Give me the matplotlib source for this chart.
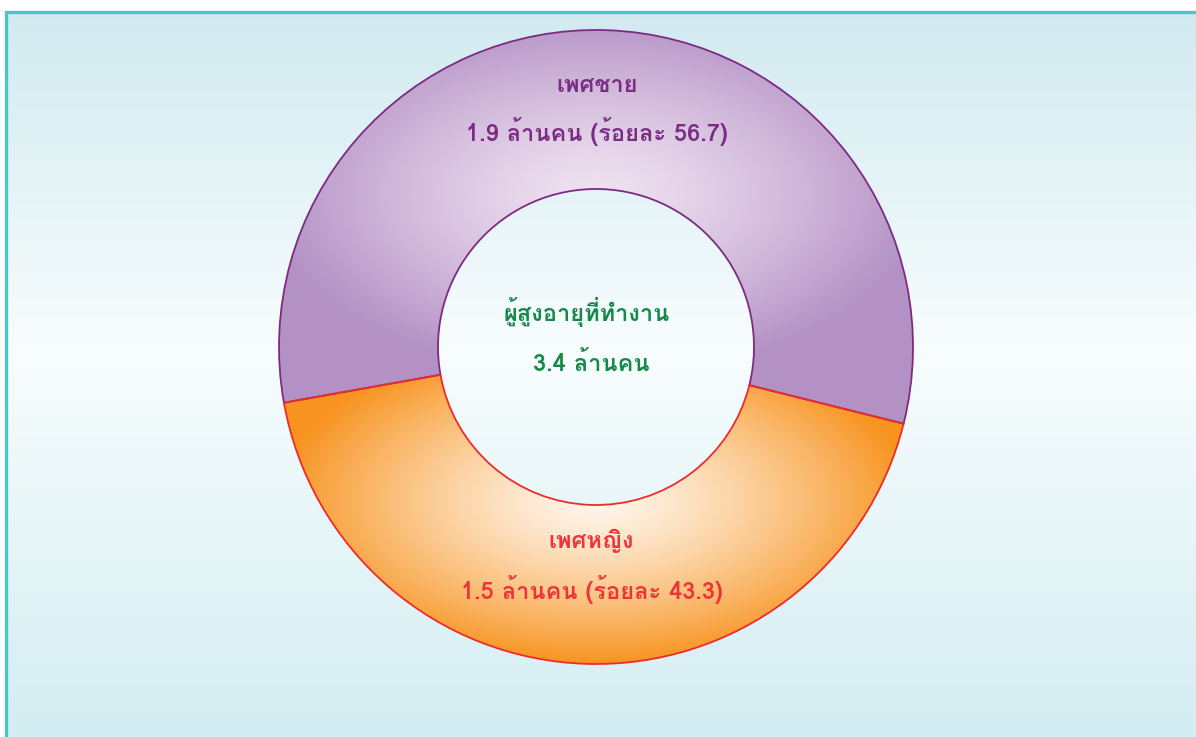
import numpy as np
import matplotlib
matplotlib.use('Agg')
import matplotlib.pyplot as plt
from matplotlib import font_manager as fm
from matplotlib.lines import Line2D

# ---------------- data ----------------
group_labels = ['เพศชาย', 'เพศหญิง']
group_millions = [1.9, 1.5]
group_percent = [56.7, 43.3]
total_label = 'ผู้สูงอายุที่ทำงาน'
total_millions = 3.4
unit = 'ล้านคน'
pct_word = 'ร้อยละ'

# ---------------- font with Thai glyphs ----------------
def thai_font_path():
    try:
        from fontTools.ttLib import TTFont
    except Exception:
        TTFont = None
    paths = fm.findSystemFonts()
    for pref in ['loma-bold.', 'loma.', 'athiti-semibold.', 'baijamjuree-semibold.']:
        for p in paths:
            if p.lower().rsplit('/', 1)[-1].startswith(pref):
                return p
    if TTFont is None:
        return None
    for p in sorted(paths):
        try:
            cmap = TTFont(p, fontNumber=0, lazy=True).getBestCmap()
            if cmap and 0x0E01 in cmap and 0x0E49 in cmap:
                return p
        except Exception:
            pass
    return None

FS = 17
thai_path = thai_font_path()
if thai_path:
    FP = dict(fontproperties=fm.FontProperties(fname=thai_path, size=FS))
else:
    FP = dict(family=['DejaVu Sans'], fontsize=FS, fontweight='bold')

# ---------------- figure ----------------
W, H = 1196, 737
fig = plt.figure(figsize=(W / 100, H / 100), dpi=100)
ax = fig.add_axes([0, 0, 1, 1])
ax.set_axis_off()

# background: vertical gradient, light blue -> white -> light blue
top_c = np.array([0xD1, 0xEA, 0xF0]) / 255
mid_c = np.array([0xF8, 0xFD, 0xFE]) / 255
bot_c = np.array([0xD3, 0xED, 0xF2]) / 255
rows = H - 11
bg = np.zeros((rows, 4, 3))
for i in range(rows):
    y_img = i + 11
    if y_img < 350:
        t = np.clip((y_img - 13) / (350 - 13), 0, 1)
        c = top_c * (1 - t) + mid_c * t
    else:
        t = np.clip((y_img - 350) / (737 - 350), 0, 1)
        c = mid_c * (1 - t) + bot_c * t
    bg[i, :, :] = c
ax.imshow(bg, extent=(5, W + 40, 0, H - 11), origin='upper', aspect='auto', zorder=0,
          interpolation='bilinear')

# frame lines (top and left)
ax.add_line(Line2D([5.5, 5.5, W + 5], [-5, H - 11.5, H - 11.5], color='#4CC4C8',
                   linewidth=2.4, solid_joinstyle='miter', zorder=1))

# ---------------- donut ----------------
cx, cy_img = 596, 347
cy = H - cy_img
R_out, R_in = 317, 158

wedges, _ = ax.pie(group_percent, radius=R_out, center=(cx, cy), startangle=-14.0,
                   counterclock=True,
                   wedgeprops=dict(width=R_out - R_in, facecolor='none', linewidth=0))

X, Y = np.meshgrid(np.arange(W) + 0.5, np.arange(H) + 0.5)

def radial_img(center_img, light, dark, ax_x, ax_y, gamma=1.3):
    dx = (X - center_img[0]) / ax_x
    dy = (Y - center_img[1]) / ax_y
    t = np.clip(np.sqrt(dx ** 2 + dy ** 2), 0, 1) ** gamma
    light = np.array(light) / 255
    dark = np.array(dark) / 255
    return light[None, None, :] * (1 - t[..., None]) + dark[None, None, :] * t[..., None]

grad_specs = [
    dict(center_img=(596, 195), light=(0xF0, 0xE2, 0xF1), dark=(0xB3, 0x91, 0xC5),
         ax_x=330, ax_y=180),
    dict(center_img=(596, 500), light=(0xFF, 0xF6, 0xEC), dark=(0xF7, 0x93, 0x1E),
         ax_x=320, ax_y=165),
]
edge_colors = ['#7D2A84', '#EE2B2B']

for w, spec, ec in zip(wedges, grad_specs, edge_colors):
    img = radial_img(**spec)
    im = ax.imshow(img, extent=(0, W, 0, H), origin='upper', aspect='auto', zorder=2,
                   interpolation='bilinear')
    im.set_clip_path(w)
    w.set_edgecolor(ec)
    w.set_linewidth(1.3)
    w.set_zorder(3)

# ---------------- texts ----------------
text_colors = ['#7B2C84', '#EE3339']
title_y = [92, 548]
value_y = [141, 599]
title_x = [597, 591]
value_x = [597, 592]
for i in range(2):
    ax.text(title_x[i], H - title_y[i], group_labels[i], ha='center', va='baseline',
            color=text_colors[i], zorder=5, **FP)
    ax.text(value_x[i], H - value_y[i],
            f'{group_millions[i]} {unit} ({pct_word} {group_percent[i]})',
            ha='center', va='baseline', color=text_colors[i], zorder=5, **FP)

ax.text(587, H - 321, total_label, ha='center', va='baseline', color='#17884A',
        zorder=5, **FP)
ax.text(591, H - 371, f'{total_millions} {unit}', ha='center', va='baseline',
        color='#17884A', zorder=5, **FP)

ax.set_xlim(0, W)
ax.set_ylim(0, H)
ax.set_aspect('auto')
ax.set_axis_off()

fig.savefig('out.png', dpi=100, facecolor='white')
